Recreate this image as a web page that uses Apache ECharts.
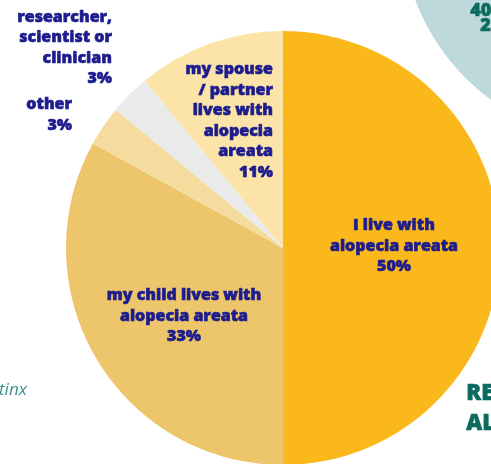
<!DOCTYPE html>
<html><head><meta charset="utf-8">
<script src="https://cdn.jsdelivr.net/npm/echarts@6/dist/echarts.min.js"></script>
<style>html,body{margin:0;padding:0;background:#fff}#c{width:491px;height:464px}</style>
</head><body><div id="c"></div>
<script>
var categories = [
  'I live with\nalopecia areata',
  'my child lives with\nalopecia areata',
  'other',
  'researcher,\nscientist or\nclinician',
  'my spouse\n/ partner\nlives with\nalopecia\nareata'
];
var values = [50, 33, 3, 3, 11];
var colors = ['#FBB81B', '#EDC56A', '#F5DC9E', '#EAEAEA', '#FCE3A7'];

var labelPos = [
  {x: 394, y: 246, align: 'center'},
  {x: 184, y: 316, align: 'center'},
  {x: 72, y: 115, align: 'right'},
  {x: 112, y: 48, align: 'right'},
  {x: 273, y: 121, align: 'right'}
];

var chart = echarts.init(document.getElementById('c'), null, {renderer: 'canvas'});
var fontFam = '"Open Sans", "Noto Sans", sans-serif';
chart.setOption({
  animation: false,
  graphic: [
    {type: 'circle', shape: {cx: 622, cy: -78, r: 221}, style: {fill: '#BED9DC'}, z: -10},
    {type: 'text', left: 470, top: 2, style: {text: '40', font: '800 18px ' + fontFam, fill: '#0B6B5E', stroke: '#0B6B5E', lineWidth: 0.6}},
    {type: 'text', left: 480, top: 17, style: {text: '2', font: '800 18px ' + fontFam, fill: '#0B6B5E', stroke: '#0B6B5E', lineWidth: 0.6}},
    {type: 'text', left: 466, top: 382, style: {text: 'RE', font: '800 22px ' + fontFam, fill: '#0B6B5E', stroke: '#0B6B5E', lineWidth: 0.6}},
    {type: 'text', left: 466, top: 412, style: {text: 'AL', font: '800 22px ' + fontFam, fill: '#0B6B5E', stroke: '#0B6B5E', lineWidth: 0.6}},
    {type: 'text', left: -1, top: 382, style: {text: 'tinx', font: 'italic 17px ' + fontFam, fill: '#3A918B'}}
  ],
  series: [{
    type: 'pie',
    center: [283, 248],
    radius: [0, 217],
    startAngle: 90,
    clockwise: true,
    silent: true,
    label: {
      show: true,
      position: 'inside',
      formatter: function (p) { return p.name + '\n' + p.value + '%'; },
      color: '#1C1C8E',
      fontFamily: fontFam,
      fontWeight: 800,
      fontSize: 16,
      lineHeight: 20.5,
      textBorderColor: '#1C1C8E',
      textBorderWidth: 0.6
    },
    labelLine: {show: false},
    labelLayout: function (p) {
      var lp = labelPos[p.dataIndex];
      return {x: lp.x, y: lp.y, align: lp.align, verticalAlign: 'middle'};
    },
    itemStyle: {borderWidth: 0},
    data: categories.map(function (c, i) {
      return {name: c, value: values[i], itemStyle: {color: colors[i]}};
    })
  }]
});
</script></body></html>
